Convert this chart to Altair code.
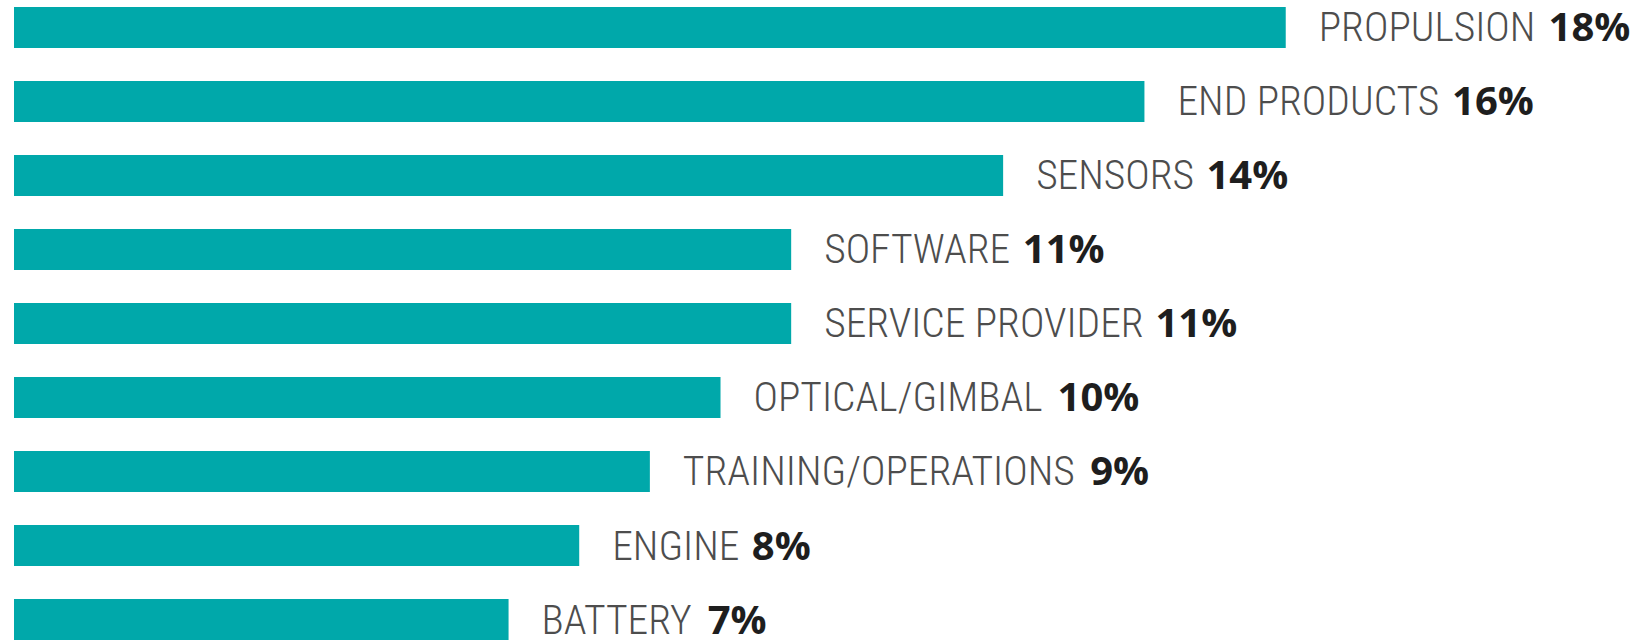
import altair as alt
import pandas as pd

# ---- data ----
categories = [
    "PROPULSION",
    "END PRODUCTS",
    "SENSORS",
    "SOFTWARE",
    "SERVICE PROVIDER",
    "OPTICAL/GIMBAL",
    "TRAINING/OPERATIONS",
    "ENGINE",
    "BATTERY",
]
shares = [18, 16, 14, 11, 11, 10, 9, 8, 7]

# ---- styling ----
BAR_COLOR = "#00a8aa"
LABEL_COLOR = "#4d4d4d"
PCT_COLOR = "#1e1e1e"
LABEL_FONT = "Roboto Condensed"
PCT_FONT = "Open Sans"
LABEL_SIZE = 41.5
PCT_SIZE = 40

PLOT_W = 1625
PLOT_H = 641
X_MAX = 23
GAP_PX = 33      # bar end -> label
SPACE_PX = 13    # label end -> bold percentage

# approximate Roboto advance widths (per 2048 em), condensed factor applied
ROBOTO_W = {
    "A": 1336, "B": 1275, "C": 1333, "D": 1343, "E": 1163, "F": 1132, "G": 1395,
    "H": 1460, "I": 557, "J": 1130, "K": 1284, "L": 1102, "M": 1788, "N": 1460,
    "O": 1408, "P": 1292, "Q": 1408, "R": 1261, "S": 1217, "T": 1222, "U": 1328,
    "V": 1303, "W": 1817, "X": 1284, "Y": 1229, "Z": 1226, " ": 507, "/": 845,
}
CONDENSED = 0.868


def label_width_px(s):
    return sum(ROBOTO_W.get(c, 1200) for c in s) / 2048 * CONDENSED * LABEL_SIZE


px_per_unit = PLOT_W / X_MAX

df = pd.DataFrame({"category": categories, "share": shares})
df["pct"] = df["share"].astype(str) + "%"
df["pct_x"] = df["share"] + (
    GAP_PX + df["category"].map(label_width_px) + SPACE_PX
) / px_per_unit

y_enc = alt.Y(
    "category:N",
    sort=categories,
    axis=None,
    scale=alt.Scale(paddingInner=0.446, paddingOuter=0.054, align=0.875),
)
x_scale = alt.Scale(domain=[0, X_MAX], nice=False, zero=True)

base = alt.Chart(df)

bars = base.mark_bar(color=BAR_COLOR, cornerRadius=0).encode(
    x=alt.X("share:Q", scale=x_scale, axis=None),
    y=y_enc,
)

labels = base.mark_text(
    align="left",
    baseline="alphabetic",
    dx=GAP_PX,
    dy=14,
    font=LABEL_FONT,
    fontSize=LABEL_SIZE,
    fontWeight=300,
    color=LABEL_COLOR,
).encode(
    x=alt.X("share:Q", scale=x_scale, axis=None),
    y=y_enc,
    text="category:N",
)

pcts = base.mark_text(
    align="left",
    baseline="alphabetic",
    dy=14,
    font=PCT_FONT,
    fontSize=PCT_SIZE,
    fontWeight="bold",
    color=PCT_COLOR,
).encode(
    x=alt.X("pct_x:Q", scale=x_scale, axis=None),
    y=y_enc,
    text="pct:N",
)

chart = (
    alt.layer(bars, labels, pcts)
    .properties(
        width=PLOT_W,
        height=PLOT_H,
        padding={"left": 14, "top": 0, "right": 0, "bottom": 0},
        background="white",
    )
    .configure_view(stroke=None)
)

chart.save("out.html", embed_options={"renderer": "svg", "actions": False})
